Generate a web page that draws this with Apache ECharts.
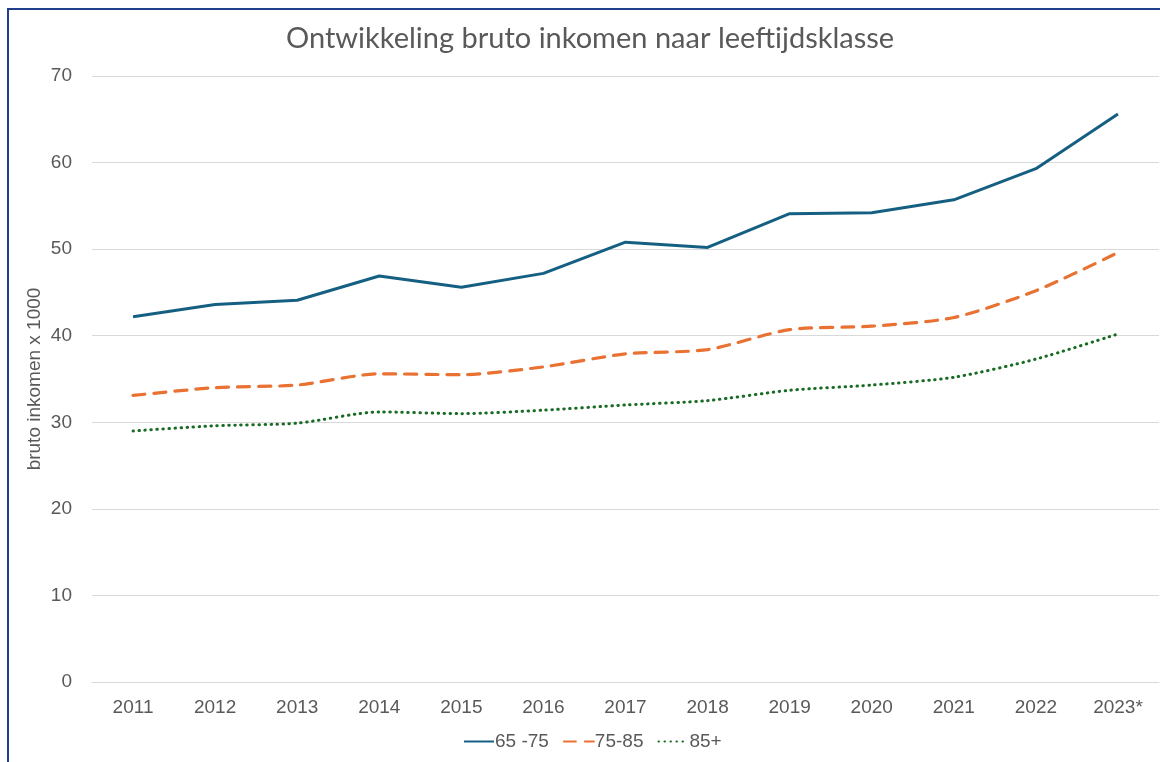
<!DOCTYPE html>
<html>
<head>
<meta charset="utf-8">
<script src="https://cdn.jsdelivr.net/npm/echarts@6/dist/echarts.min.js"></script>
<style>
  html, body { margin: 0; padding: 0; background: #fff; }
  #chart { position: absolute; left: 0; top: 0; width: 1160px; height: 762px; }
  .frame {
    position: absolute; left: 7px; top: 8px; width: 1200px; height: 800px;
    border-top: 2px solid #1f3f8c; border-left: 2px solid #1f3f8c;
    pointer-events: none;
  }
</style>
</head>
<body>
<div id="chart"></div>
<div class="frame"></div>
<script>
// jaren (2023 is voorlopig)
const years = ['2011', '2012', '2013', '2014', '2015', '2016', '2017', '2018', '2019', '2020', '2021', '2022', '2023*']
// bruto inkomen x 1000 per leeftijdsklasse
const age65to75 = [42.2, 43.6, 44.1, 46.9, 45.6, 47.2, 50.8, 50.2, 54.1, 54.2, 55.7, 59.3, 65.6]
const age75to85 = [33.1, 34.0, 34.3, 35.6, 35.5, 36.4, 37.9, 38.4, 40.7, 41.1, 42.1, 45.2, 49.6]
const age85plus = [29.0, 29.6, 29.9, 31.2, 31.0, 31.4, 32.0, 32.5, 33.7, 34.3, 35.2, 37.3, 40.2]
const yTicks = [0, 10, 20, 30, 40, 50, 60, 70]

const txt = '#595959'
const myChart = echarts.init(document.getElementById('chart'))
const option = {
  animation: false,
  title: {
    text: 'Ontwikkeling bruto inkomen naar leeftijdsklasse',
    left: 281,
    top: 19,
    textStyle: {
      color: txt,
      fontFamily: 'Lato',
      fontWeight: 'normal',
      fontSize: 29
    }
  },
  legend: {
    bottom: 6,
    left: 458,
    itemWidth: 30,
    itemHeight: 10,
    itemGap: 14,
    itemStyle: { color: 'transparent', borderWidth: 0 },
    textStyle: {
      color: txt,
      fontFamily: 'Liberation Sans',
      fontSize: 19,
      padding: [0, 0, 0, -4]
    }
  },
  grid: {
    left: 92,
    right: 1,
    top: 76,
    bottom: 80
  },
  xAxis: {
    type: 'category',
    data: years,
    boundaryGap: true,
    axisTick: { show: false },
    axisLine: { lineStyle: { color: '#d9d9d9', width: 1 } },
    axisLabel: {
      color: txt,
      fontFamily: 'Liberation Sans',
      fontSize: 19,
      margin: 16
    }
  },
  yAxis: {
    type: 'value',
    min: yTicks[0],
    max: yTicks[yTicks.length - 1],
    interval: 10,
    name: 'bruto inkomen x 1000',
    nameLocation: 'middle',
    nameGap: 48,
    nameMoveOverlap: false,
    nameTextStyle: {
      color: txt,
      fontFamily: 'Liberation Sans',
      fontSize: 19
    },
    axisLine: { show: false },
    axisTick: { show: false },
    axisLabel: {
      color: txt,
      fontFamily: 'Liberation Sans',
      fontSize: 19,
      margin: 20
    },
    splitLine: { lineStyle: { color: '#d9d9d9', width: 1 } }
  },
  series: [
    {
      name: '65 -75',
      type: 'line',
      data: age65to75,
      symbol: 'none',
      color: '#156082',
      lineStyle: { width: 3, color: '#156082' }
    },
    {
      name: '75-85',
      type: 'line',
      data: age75to85,
      symbol: 'none',
      smooth: 0.25,
      color: '#e97132',
      lineStyle: { width: 3.2, color: '#e97132', type: [12, 9], cap: 'round' }
    },
    {
      name: '85+',
      type: 'line',
      data: age85plus,
      symbol: 'none',
      smooth: 0.25,
      color: '#196b24',
      lineStyle: { width: 3, color: '#196b24', type: [0.5, 5.5], cap: 'round' }
    }
  ]
}
myChart.setOption(option)
</script>
</body>
</html>
